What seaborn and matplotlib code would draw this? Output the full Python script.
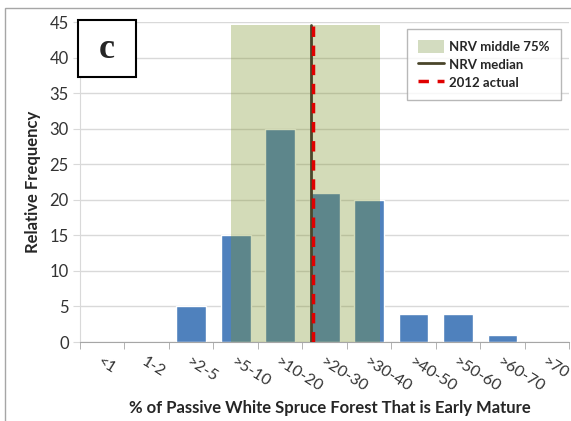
import matplotlib
matplotlib.use('Agg')
import matplotlib.pyplot as plt
import seaborn as sns
import pandas as pd
from matplotlib.patches import Patch, Rectangle
from matplotlib.lines import Line2D

# data
categories = ['<1', '1-2', '>2-5', '>5-10', '>10-20', '>20-30', '>30-40', '>40-50', '>50-60', '>60-70', '>70']
frequency = [0, 0, 5, 15, 30, 21, 20, 4, 4, 1, 0]
nrv_low = 2.89      # middle 75% range, in category-axis units
nrv_high = 6.24
nrv_top = 44.6
nrv_median = 4.69
actual_2012 = 4.73

df = pd.DataFrame({'cat': categories, 'freq': frequency})

sns.set_style('white')
plt.rcParams['font.family'] = ['Lato', 'DejaVu Sans']

fig = plt.figure(figsize=(5.71, 4.21), dpi=100)
ax = fig.add_axes([0.140, 0.1876, 0.857, 0.760])

sns.barplot(data=df, x='cat', y='freq', color='#4F81BD', saturation=1, width=0.67, ax=ax, zorder=2)

# shaded NRV middle 75%
ax.fill_between([nrv_low, nrv_high], 0, nrv_top, color='#7C9228', alpha=0.33, lw=0, zorder=3)
ax.axvline(nrv_median, ymax=nrv_top / 45, color='#4A452A', lw=2, zorder=4)
ax.axvline(actual_2012, ymax=nrv_top / 45, color='#E00000', lw=2.5, ls=(0, (3, 2.5)), zorder=5)

ax.set_ylim(0, 45)
ax.set_xlim(-0.5, len(categories) - 0.5)
ax.set_yticks(range(0, 46, 5))
ax.yaxis.grid(True, color='#D9D9D9', lw=1, zorder=0)
ax.set_axisbelow(True)
ax.tick_params(axis='y', length=5, color='#D9D9D9', labelsize=12, labelcolor='#333333', pad=3, left=True)

ax.set_xticks(range(len(categories)))
ax.set_xticklabels(categories, rotation=-32, ha='left', rotation_mode='anchor', fontsize=11.5, color='#333333')
ax.tick_params(axis='x', length=0, pad=9)
ax.set_xticks([i - 0.5 for i in range(len(categories) + 1)], minor=True)
ax.tick_params(axis='x', which='minor', length=5, color='#A6A6A6', bottom=True)

for s in ['top', 'right']:
    ax.spines[s].set_visible(False)
ax.spines['left'].set_color('#D9D9D9')
ax.spines['bottom'].set_color('#A6A6A6')

ax.set_xlabel('% of Passive White Spruce Forest That is Early Mature', fontsize=12, fontweight='bold')
ax.xaxis.set_label_coords(0.511, -0.206)
ax.xaxis.label.set_va('center')
ax.set_ylabel('Relative Frequency', fontsize=12, fontweight='bold', labelpad=6)

# legend
handles = [Patch(facecolor='#D3DCC0', edgecolor='none'),
           Line2D([], [], color='#4A452A', lw=2),
           Line2D([], [], color='#E00000', lw=2.5, ls=(0, (3, 2.5)))]
leg = ax.legend(handles, ['NRV middle 75%', 'NRV median', '2012 actual'],
                loc='upper right', bbox_to_anchor=(0.996, 1.0), fontsize=9.5, frameon=True,
                fancybox=False, edgecolor='#A6A6A6', handlelength=2.0, handleheight=1.2,
                borderpad=0.85, labelspacing=0.32, handletextpad=0.35)
leg.get_frame().set_linewidth(1)
for t in leg.get_texts():
    t.set_fontweight('bold')

# panel label
fig.patches.append(Rectangle((78 / 571, 1 - 77 / 421), 58 / 571, 57 / 421, transform=fig.transFigure,
                             facecolor='white', edgecolor='black', lw=1.5, zorder=10))
fig.text(107 / 571, 1 - 49 / 421, 'c', family='Liberation Serif', fontweight='bold', fontsize=26,
         ha='center', va='center', zorder=11)

# outer frame
fig.patches.append(Rectangle((5 / 571, -0.01), 1.1, 1 - 8 / 421 + 0.01, transform=fig.transFigure,
                             facecolor='none', edgecolor='#A6A6A6', lw=1, zorder=0))

fig.savefig('out.png', dpi=100)
